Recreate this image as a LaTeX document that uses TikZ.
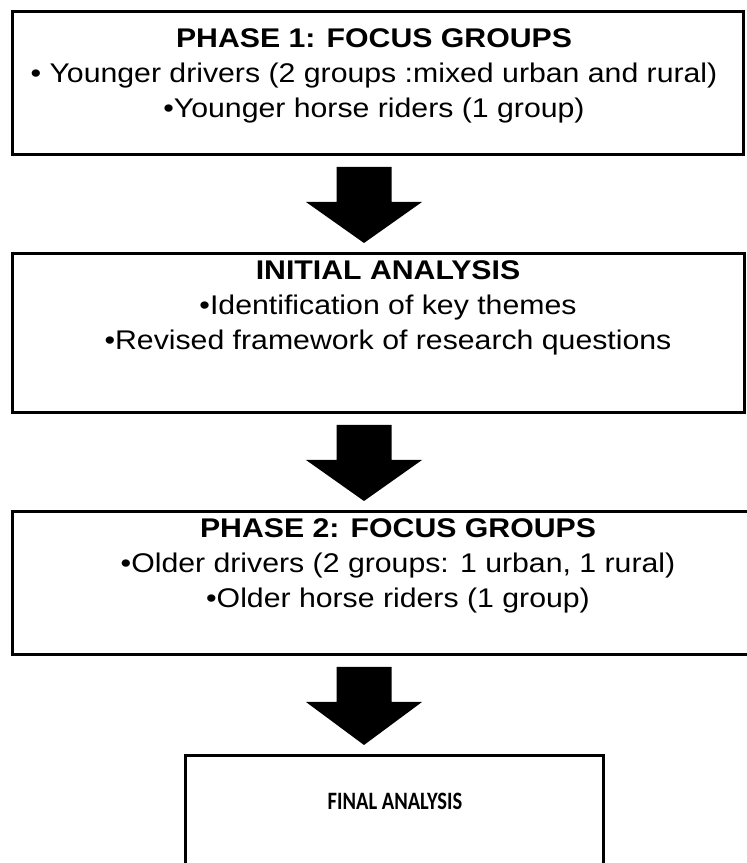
\documentclass[tikz,border=0pt]{standalone}
\usepackage{fontspec}
\setmainfont{Liberation Sans}[FakeStretch=1.12]
\newfontfamily\finalfont{Carlito}[FakeStretch=0.82]
\usetikzlibrary{calc}

\tikzset{
  phasebox/.style={draw=black, line width=3pt, fill=white, rectangle, inner sep=0pt, outer sep=0pt},
  boxtext/.style={align=center, font=\fontsize{27}{35}\selectfont, inner sep=0pt},
}

\begin{document}
\begin{tikzpicture}[x=1pt,y=1pt]
\useasboundingbox (0,0) rectangle (747,863);
\fill[white] (0,0) rectangle (747,863);

% boxes
\node[phasebox, minimum width=731pt, minimum height=143pt] (p1) at (377.5,779.5) {};
\node[phasebox, minimum width=732pt, minimum height=159pt] (p2) at (378,529.5) {};
\node[phasebox, minimum width=772pt, minimum height=143pt] (p3) at (398,279.5) {};
\node[phasebox, minimum width=418pt, minimum height=124pt] (p4) at (394,45) {};

% texts
\node[boxtext] (t1) at (374,787) {\textbf{PHASE 1: FOCUS GROUPS}\\• Younger drivers (2 groups :mixed urban and rural)\\•Younger horse riders (1 group)};
\node[boxtext] (t2) at (388,555) {\textbf{INITIAL ANALYSIS}\\•Identification of key themes\\•Revised framework of research questions};
\node[boxtext] (t3) at (398,297) {\textbf{PHASE 2: FOCUS GROUPS}\\•Older drivers (2 groups: 1 urban, 1 rural)\\•Older horse riders (1 group)};
\node[font=\finalfont\bfseries\fontsize{25}{29}\selectfont, inner sep=0pt] (t4) at (395,62) {FINAL ANALYSIS};

% block arrows
\coordinate (ax) at (364,0);
\foreach \a/\b in {p1/p2,p2/p3,p3/p4}{
  \fill ($(\a.south -| ax)+(-27.5,-12)$) -- ++(55,0) -- ++(0,-35) -- ++(30.5,0)
    -- ($(\b.north -| ax)+(0,11)$) -- ($(\a.south -| ax)+(-58,-47)$) -- ++(30.5,0) -- cycle;
}

\end{tikzpicture}
\end{document}
